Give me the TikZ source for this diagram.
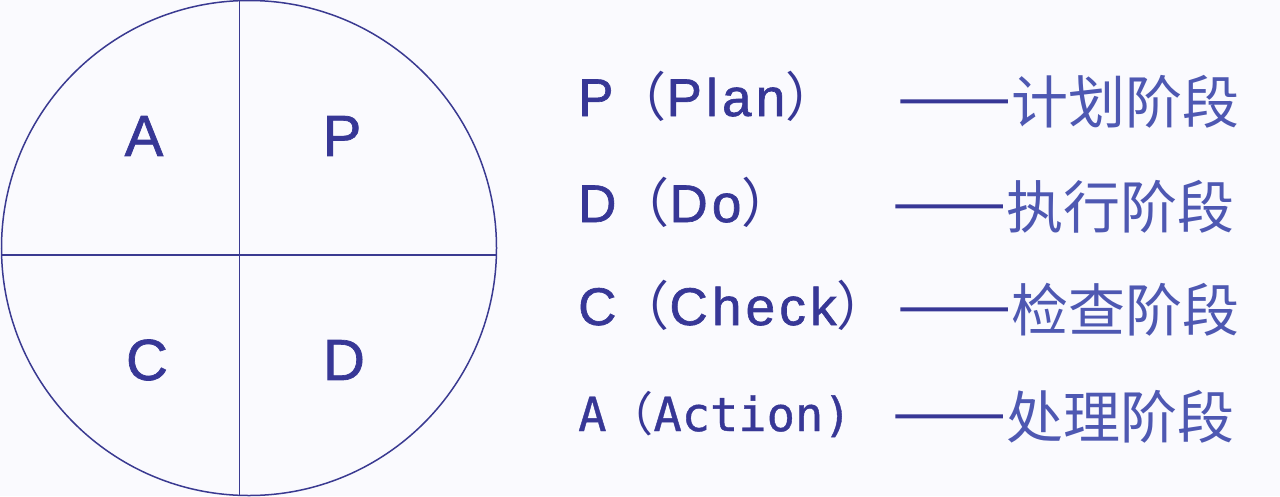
\documentclass[tikz,border=0pt]{standalone}
\usepackage{fontspec}
\setmainfont{Liberation Sans}[FakeBold=1.2]
\newfontfamily\cjk{Noto Sans CJK SC}[RawFeature=+fwid]
\newfontfamily\cjkdash{Noto Sans CJK SC}[RawFeature=+fwid, FakeBold=3]
\newfontfamily\latinwide{Liberation Sans}[LetterSpace=8, FakeBold=1.2]
\newfontfamily\monolatin{DejaVu Sans Mono}[FakeBold=0.8]
\definecolor{pdcabg}{RGB}{250,250,254}
\definecolor{pdcaline}{RGB}{58,58,145}
\definecolor{pdcatext}{RGB}{55,55,150}
\definecolor{pdcacjk}{RGB}{78,88,178}
\newcommand{\longdash}{{\cjkdash\color{pdcatext}——}}

\begin{document}
\begin{tikzpicture}[
  x=1pt, y=-1pt,
  letter/.style={font=\fontsize{58}{60}\selectfont, text=pdcatext, inner sep=0pt},
  phase/.style={anchor=base west, inner sep=0pt, font=\fontsize{53}{55}\latinwide, text=pdcatext},
  stage/.style={anchor=base west, inner sep=0pt, font=\fontsize{57}{60}\cjk, text=pdcacjk},
  divider/.style={draw=pdcaline, line width=1.5pt}
]
  \useasboundingbox (0,0) rectangle (1280,496);
  \fill[pdcabg] (0,0) rectangle (1280,496);

  % Circle
  \node[circle, draw=pdcaline, line width=1.5pt, minimum size=495pt, inner sep=0pt] (wheel) at (249,248) {};
  \coordinate (vtop) at (239.5,0.7);
  \coordinate (vbot) at (239.5,495.3);
  \coordinate (hleft) at (1.6,255);
  \coordinate (hright) at (496.4,255);
  \draw[divider] (vtop) -- (vbot);
  \draw[divider] (hleft) -- (hright);

  % Quadrants
  \node[letter] (quadA) at (144,136) {A};
  \node[letter] (quadP) at (342,136) {P};
  \node[letter] (quadC) at (147,360) {C};
  \node[letter] (quadD) at (344,360) {D};

  % Legend
  \node[phase] (planL) at (578,116) {P{\cjk （}Plan{\cjk ）}};
  \node[stage] (planR) at (897,123) {\longdash 计划阶段};
  \node[phase] (doL) at (578,222) {D{\cjk （}Do{\cjk ）}};
  \node[stage] (doR) at (892,228) {\longdash 执行阶段};
  \node[phase] (checkL) at (578,325) {C{\cjk （}Check{\cjk ）}};
  \node[stage] (checkR) at (897,331) {\longdash 检查阶段};
  \node[phase, font=\fontsize{47}{49}\monolatin] (actL) at (578,431) {A{\cjk （}Action)};
  \node[stage] (actR) at (892,438) {\longdash 处理阶段};
\end{tikzpicture}
\end{document}
